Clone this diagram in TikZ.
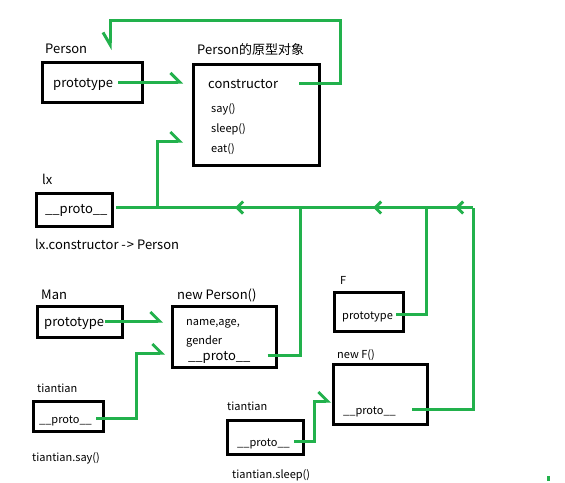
\documentclass[tikz,border=0pt]{standalone}
\usepackage{fontspec}
\setmainfont{Noto Sans CJK SC}
\usepackage{xcolor}
\usetikzlibrary{arrows.meta,positioning,decorations.markings}
\definecolor{paintgreen}{RGB}{34,177,76}

\begin{document}
\begin{tikzpicture}[x=1pt, y=-1pt,
  box/.style={draw, line width=3pt, inner sep=0pt},
  big/.style={font=\fontsize{13}{15}\selectfont, inner sep=0pt, anchor=west, text height=11pt, text depth=0pt},
  small/.style={font=\fontsize{11}{13}\selectfont, inner sep=0pt, anchor=west, text height=11pt, text depth=0pt},
  link/.style={paintgreen, line width=3pt},
  harp/.style={-{Straight Barb[harpoon, length=9pt, width=18pt]}},
  harpdown/.style={-{Straight Barb[harpoon, swap, length=12pt, width=14pt]}},
  busarrows/.style={postaction={decorate}, decoration={markings,
    mark=at position 18pt with {\arrow{Straight Barb[length=6pt, width=12pt]}},
    mark=at position 100pt with {\arrow{Straight Barb[length=6pt, width=12pt]}},
    mark=at position 238pt with {\arrow{Straight Barb[length=6pt, width=12pt]}}}}
]
\useasboundingbox (0,0) rectangle (565,482);

% Person
\node[big] (personLbl) at (45,48) {Person};
\node[box, minimum width=100pt, minimum height=40pt] (personBox) at (92.5,82.5) {};
\node[big] (personProto) at (53,82) {prototype};

% Prototype object
\node[big] (protoLbl) at (197,49) {Person的原型对象};
\node[box, minimum width=126pt, minimum height=101pt] (protoBox) at (256.5,115) {};
\node[big] (cons) at (208,83) {constructor};
\node[small] (say) at (211,107) {say()};
\node[small] (sleep) at (211,127) {sleep()};
\node[small] (eat) at (211,147) {eat()};

% lx
\node[big] (lxLbl) at (42,179) {lx};
\node[box, minimum width=76pt, minimum height=33pt] (lxBox) at (74.5,210) {};
\node[big] (lxProto) at (45,207.5) {\_\_proto\_\_};
\node[big] (lxNote) at (35,244) {lx.constructor -\kern1pt> Person};

% Man
\node[big] (manLbl) at (41,294) {Man};
\node[box, minimum width=85pt, minimum height=31pt] (manBox) at (80,322) {};
\node[big] (manProto) at (44,321) {prototype};

% new Person()
\node[big] (npLbl) at (177,294) {new Person()};
\node[box, minimum width=104pt, minimum height=61pt] (npBox) at (224.5,337) {};
\node[small] (npName) at (186,320) {name,age,};
\node[small] (npGender) at (186,339) {gender};
\node[big] (npProto) at (188,355) {\_\_proto\_\_};

% tiantian (say)
\node[small] (ttaLbl) at (37,387) {tiantian};
\node[box, minimum width=70pt, minimum height=30pt] (ttaBox) at (68.5,416.5) {};
\node[small] (ttaProto) at (39,418) {\_\_proto\_\_};
\node[small] (ttaNote) at (32,456) {tiantian.say()};

% F
\node[small] (fLbl) at (340,279) {F};
\node[box, minimum width=69pt, minimum height=39pt] (fBox) at (369,312) {};
\node[small] (fProto) at (342,314) {prototype};

% new F()
\node[small] (nfLbl) at (337,353) {new F()};
\node[box, minimum width=94pt, minimum height=60pt] (nfBox) at (380.5,394.5) {};
\node[small] (nfProto) at (343,409) {\_\_proto\_\_};

% tiantian (sleep)
\node[small] (ttbLbl) at (227,405) {tiantian};
\node[box, minimum width=76pt, minimum height=34pt] (ttbBox) at (265.5,437.5) {};
\node[small] (ttbProto) at (237,441) {\_\_proto\_\_};
\node[small] (ttbNote) at (232,473) {tiantian.sleep()};

% Bends and arrow ends
\coordinate (topR) at (340,20);
\coordinate (personIn) at (110,50);
\coordinate (protoInA) at (183,82);
\coordinate (protoInB) at (183,141);
\coordinate (busR) at (473,207.5);
\coordinate (busA) at (157,207.5);
\coordinate (busB) at (300,207.5);
\coordinate (busC) at (426,207.5);
\coordinate (lxOut) at ([xshift=8]lxProto.east);
\coordinate (npInA) at (163,321);
\coordinate (npInB) at (165,353);
\coordinate (ttaBend) at (136,353);
\coordinate (nfIn) at (331,401);
\coordinate (ttbBend) at (314,401);

% Green links
\draw[link, harp] ([xshift=5]personProto.east) -- (protoInA);
\draw[link, harpdown] ([xshift=21]cons.east) -| (topR) -| (personIn);
\draw[link, busarrows] (busR) -- (busR -| lxOut);
\draw[link, harp] (busA) |- (protoInB);
\draw[link] ([xshift=17]npProto.east) -| (busB);
\draw[link] ([xshift=3]fProto.east) -| (busC);
\draw[link] ([xshift=16]nfProto.east) -| (busR);
\draw[link, harp] ([xshift=1]manProto.east) -- (npInA);
\draw[link, harp] ([xshift=4]ttaProto.east) -| (ttaBend) -- (npInB);
\draw[link, harp] ([xshift=4]ttbProto.east) -| (ttbBend) -- (nfIn);

% Stray dot
\fill[paintgreen] (547,476) rectangle (550,481);

\end{tikzpicture}
\end{document}
